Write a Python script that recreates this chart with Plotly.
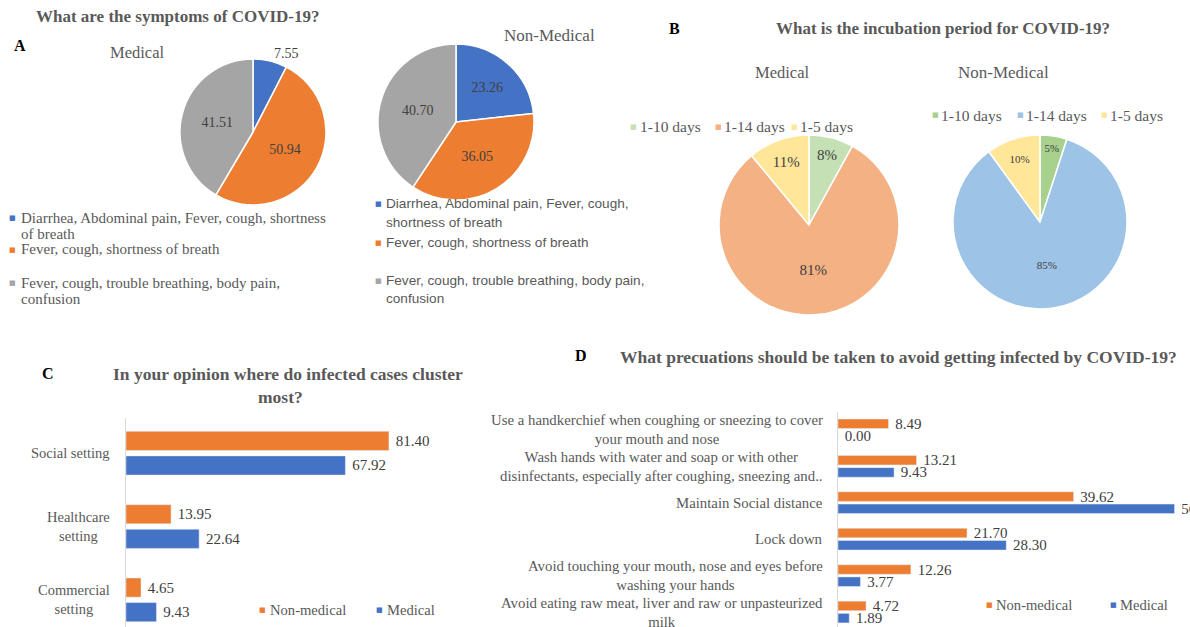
import plotly.graph_objects as go

W, H = 1190, 627

# ---------------- Data ----------------
# Panel A
symptom_labels = [
    "Diarrhea, Abdominal pain, Fever, cough, shortness of breath",
    "Fever, cough, shortness of breath",
    "Fever, cough, trouble breathing, body pain, confusion",
]
symptoms_medical = [7.55, 50.94, 41.51]
symptoms_nonmedical = [23.26, 36.05, 40.70]

# Panel B
incubation_labels = ["1-10 days", "1-14 days", "1-5 days"]
incubation_medical = [8, 81, 11]
incubation_nonmedical = [5, 85, 10]

# Panel C
cluster_categories = ["Social setting", "Healthcare setting", "Commercial setting"]
cluster_tick_text = ["Social setting", "Healthcare<br>setting", "Commercial<br>setting"]
cluster_nonmedical = [81.40, 13.95, 4.65]
cluster_medical = [67.92, 22.64, 9.43]

# Panel D
precaution_categories = [
    "Use a handkerchief",
    "Wash hands",
    "Maintain Social distance",
    "Lock down",
    "Avoid touching",
    "Avoid eating raw meat",
]
precaution_tick_text = [
    "Use a handkerchief when coughing or sneezing to cover<br>your mouth and nose",
    "Wash hands with water and soap or with other<br>disinfectants, especially after coughing, sneezing and..",
    "Maintain Social distance",
    "Lock down",
    "Avoid touching your mouth, nose and eyes before<br>washing your hands",
    "Avoid eating raw meat, liver and raw or unpasteurized<br>milk",
]
precaution_nonmedical = [8.49, 13.21, 39.62, 21.70, 12.26, 4.72]
precaution_medical = [0.00, 9.43, 56.60, 28.30, 3.77, 1.89]

# ---------------- Styles ----------------
BLUE, ORANGE, GREY = "#4472C4", "#ED7D31", "#A5A5A5"
sym_colors = [BLUE, ORANGE, GREY]
inc_med_colors = ["#C5E0B4", "#F4B183", "#FFE699"]
inc_non_colors = ["#A9D18E", "#9DC3E6", "#FFE699"]
SERIF = "Liberation Serif"
SANS = "Liberation Sans"
TXT = "#595959"
DARK = "#404040"


def px(x):
    return x / W


def py(y):
    return 1 - y / H


def dom(cx, cy, r):
    return dict(x=[px(cx - r), px(cx + r)], y=[py(cy + r), py(cy - r)])


fig = go.Figure()

# Panel A pies
fig.add_trace(go.Pie(
    labels=symptom_labels, values=symptoms_medical, sort=False, direction="clockwise",
    rotation=0, domain=dom(253, 132, 73), marker=dict(colors=sym_colors, line=dict(color="white", width=1.5)),
    texttemplate="%{value:.2f}", textposition=["outside", "inside", "inside"],
    insidetextorientation="horizontal", textfont=dict(family=SERIF, size=14, color=DARK),
    showlegend=False, hoverinfo="label+value"))
fig.add_trace(go.Pie(
    labels=symptom_labels, values=symptoms_nonmedical, sort=False, direction="clockwise",
    rotation=0, domain=dom(456, 122, 78), marker=dict(colors=sym_colors, line=dict(color="white", width=1.5)),
    texttemplate="%{value:.2f}", textposition="inside",
    insidetextorientation="horizontal", textfont=dict(family=SERIF, size=14, color=DARK),
    showlegend=False, hoverinfo="label+value"))

# Panel B pies
fig.add_trace(go.Pie(
    labels=incubation_labels, values=incubation_medical, sort=False, direction="clockwise",
    rotation=0, domain=dom(809, 225, 90), marker=dict(colors=inc_med_colors, line=dict(color="white", width=1.5)),
    texttemplate="%{value}%", textposition="inside",
    insidetextorientation="horizontal", textfont=dict(family=SERIF, size=15, color=DARK),
    showlegend=False, hoverinfo="label+value"))
fig.add_trace(go.Pie(
    labels=incubation_labels, values=incubation_nonmedical, sort=False, direction="clockwise",
    rotation=0, domain=dom(1040, 222, 87), marker=dict(colors=inc_non_colors, line=dict(color="white", width=1.5)),
    texttemplate="%{value}%", textposition="inside",
    insidetextorientation="horizontal", textfont=dict(family=SERIF, size=11, color=DARK),
    showlegend=False, hoverinfo="label+value"))

# Panel C bars
bar_font = dict(family=SERIF, size=15, color=DARK)
fig.add_trace(go.Bar(
    y=cluster_categories, x=cluster_medical, orientation="h", name="Medical",
    marker_color=BLUE, texttemplate="\u00a0%{x:.2f}", textposition="outside",
    textfont=bar_font, constraintext="none", cliponaxis=True,
    xaxis="x", yaxis="y", showlegend=False))
fig.add_trace(go.Bar(
    y=cluster_categories, x=cluster_nonmedical, orientation="h", name="Non-medical",
    marker_color=ORANGE, texttemplate="\u00a0%{x:.2f}", textposition="outside",
    textfont=bar_font, constraintext="none", cliponaxis=True,
    xaxis="x", yaxis="y", showlegend=False))

# Panel D bars
fig.add_trace(go.Bar(
    y=precaution_categories, x=precaution_medical, orientation="h", name="Medical",
    marker_color=BLUE, texttemplate="\u00a0%{x:.2f}", textposition="outside",
    textfont=bar_font, constraintext="none", cliponaxis=True,
    xaxis="x2", yaxis="y2", showlegend=False))
fig.add_trace(go.Bar(
    y=precaution_categories, x=precaution_nonmedical, orientation="h", name="Non-medical",
    marker_color=ORANGE, texttemplate="\u00a0%{x:.2f}", textposition="outside",
    textfont=bar_font, constraintext="none", cliponaxis=True,
    xaxis="x2", yaxis="y2", showlegend=False))

fig.update_layout(
    width=W, height=H, margin=dict(l=0, r=0, t=0, b=0),
    paper_bgcolor="white", plot_bgcolor="white",
    font=dict(family=SERIF, color=TXT, size=14),
    barmode="group", bargap=0.33, bargroupgap=0.22,
    xaxis=dict(domain=[px(126), px(449)], range=[0, 100], visible=False, fixedrange=True),
    yaxis=dict(domain=[0, py(418)], range=[-0.37, 2.48], type="category",
               categoryorder="array", categoryarray=cluster_categories[::-1],
               showticklabels=False, showline=True, linecolor="#D9D9D9", linewidth=1,
               showgrid=False, zeroline=False, ticks=""),
    xaxis2=dict(domain=[px(838), 1.0], range=[0, 59.2], visible=False, anchor="y2"),
    yaxis2=dict(domain=[0, py(412)], range=[-0.41, 5.49], type="category", anchor="x2",
                categoryorder="array", categoryarray=precaution_categories[::-1],
                showticklabels=False, showline=True, linecolor="#D9D9D9", linewidth=1,
                showgrid=False, zeroline=False, ticks=""),
)

ann = []


def text(x, y, s, size=14, color=TXT, family=SERIF, xanchor="left", bold=False, align="left"):
    t = f"<b>{s}</b>" if bold else s
    ann.append(dict(x=px(x), y=py(y), xref="paper", yref="paper",
                    text=t, showarrow=False, xanchor=xanchor, yanchor="middle", align=align,
                    font=dict(size=size, color=color, family=family)))


def square(x, y, color, size=7):
    ann.append(dict(x=px(x), y=py(y), xref="paper", yref="paper", text="\u25A0", showarrow=False,
                    xanchor="center", yanchor="middle", font=dict(size=size, color=color, family="DejaVu Sans")))


# Titles and panel letters
text(177, 17, "What are the symptoms of COVID-19?", size=17, xanchor="center", bold=True)
text(12, 45, "A", size=16, color="black", bold=True)
text(943, 28, "What is the incubation period for COVID-19?", size=17, xanchor="center", bold=True)
text(667, 28, "B", size=16, color="black", bold=True)
text(288, 374, "In your opinion where do infected cases cluster", size=17.5, xanchor="center", bold=True)
text(280, 397, "most?", size=17.5, xanchor="center", bold=True)
text(40, 373, "C", size=16, color="black", bold=True)
text(898, 357, "What precuations should be taken to avoid getting infected by COVID-19?", size=17.5, xanchor="center", bold=True)
text(573, 355, "D", size=16, color="black", bold=True)

# Pie subtitles
text(137, 52, "Medical", size=16.5, xanchor="center")
text(549, 35, "Non-Medical", size=17, xanchor="center")
text(782, 73, "Medical", size=16.5, xanchor="center")
text(1003, 72, "Non-Medical", size=17, xanchor="center")

# Panel A legends
LA = 15
square(12, 218, BLUE)
text(19, 218, "Diarrhea, Abdominal pain, Fever, cough, shortness", size=LA)
text(19, 234, "of breath", size=LA)
square(12, 250, ORANGE)
text(19, 249, "Fever, cough, shortness of breath", size=LA)
square(12, 283, GREY)
text(19, 283, "Fever, cough, trouble breathing, body pain,", size=LA)
text(19, 299, "confusion", size=LA)

LB = 13.6
square(378, 204, BLUE)
text(384, 203, "Diarrhea, Abdominal pain, Fever, cough,", size=LB, family=SANS)
text(384, 222, "shortness of breath", size=LB, family=SANS)
square(378, 243, ORANGE)
text(384, 242, "Fever, cough, shortness of breath", size=LB, family=SANS)
square(378, 281, GREY)
text(384, 280, "Fever, cough, trouble breathing, body pain,", size=LB, family=SANS)
text(384, 298, "confusion", size=LB, family=SANS)

# Panel B legends
for sx, tx, lab, col in zip([633, 718, 794], [638, 722, 798], incubation_labels, inc_med_colors):
    square(sx, 127, col)
    text(tx, 127, lab, size=15.5)
for sx, tx, lab, col in zip([935, 1020, 1104], [939, 1024, 1108], incubation_labels, inc_non_colors):
    square(sx, 115, col)
    text(tx, 115, lab, size=15.5)

# Panel C category labels and legend
for cat, lab in zip(cluster_categories, cluster_tick_text):
    ann.append(dict(x=px(112), y=cat, xref="paper", yref="y", text=lab, showarrow=False,
                    xanchor="right", yanchor="middle", align="center",
                    font=dict(size=14.5, color=TXT, family=SERIF)))
square(262, 610, ORANGE)
text(268, 610, "Non-medical", size=14.6)
square(380, 610, BLUE)
text(385, 610, "Medical", size=14.6)

# Panel D category labels and legend
for cat, lab in zip(precaution_categories, precaution_tick_text):
    ann.append(dict(x=px(825), y=cat, xref="paper", yref="y2", text=lab, showarrow=False,
                    xanchor="right", yanchor="middle", align="center",
                    font=dict(size=14.8, color=TXT, family=SERIF)))
square(989, 605, ORANGE)
text(994, 605, "Non-medical", size=14.6)
square(1113, 605, BLUE)
text(1118, 605, "Medical", size=14.6)

fig.update_layout(annotations=ann)
fig.write_html("out.html", config={"displayModeBar": False},
               post_script="document.body.style.margin='0';document.body.style.padding='0';")
